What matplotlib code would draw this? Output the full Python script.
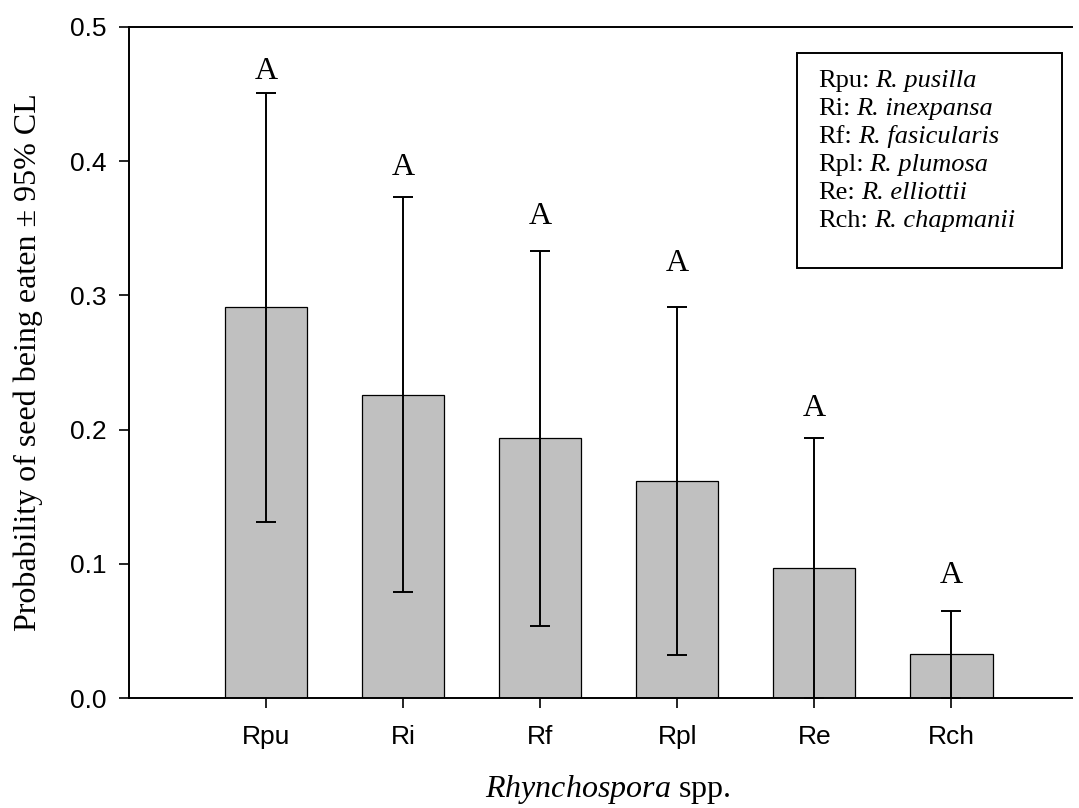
import matplotlib
matplotlib.use("Agg")
import matplotlib.pyplot as plt
from matplotlib.patches import Rectangle

plt.rcParams['mathtext.fontset'] = 'custom'
plt.rcParams['mathtext.rm'] = 'Liberation Serif'
plt.rcParams['mathtext.it'] = 'Liberation Serif:italic'

# data
species = ['Rpu', 'Ri', 'Rf', 'Rpl', 'Re', 'Rch']
prob = [0.291, 0.226, 0.194, 0.162, 0.097, 0.033]
ci_upper = [0.451, 0.373, 0.333, 0.291, 0.194, 0.065]
ci_lower = [0.131, 0.079, 0.054, 0.032, 0.0, 0.0]
letters = ['A', 'A', 'A', 'A', 'A', 'A']
letter_y = [0.467, 0.395, 0.359, 0.324, 0.216, 0.091]
key_codes = ['Rpu', 'Ri', 'Rf', 'Rpl', 'Re', 'Rch']
key_names = ['R. pusilla', 'R. inexpansa', 'R. fasicularis', 'R. plumosa',
             'R. elliottii', 'R. chapmanii']

W, H = 1079, 808
fig = plt.figure(figsize=(W / 100, H / 100), dpi=100)
ax = fig.add_axes([129 / W, 1 - 698 / H, (1072 - 129) / W, (698 - 27) / H])

x = list(range(1, len(species) + 1))
ax.bar(x, prob, width=0.6, color='#c0c0c0', edgecolor='black', linewidth=0.9, zorder=2)
yerr = [[p - lo for p, lo in zip(prob, ci_lower)], [hi - p for p, hi in zip(prob, ci_upper)]]
ax.errorbar(x, prob, yerr=yerr, fmt='none', ecolor='black', elinewidth=1.4,
            capsize=7.2, capthick=1.4, zorder=3)

for xi, ly, lt in zip(x, letter_y, letters):
    ax.text(xi, ly, lt, ha='center', va='center', fontsize=23, family='Liberation Serif')

ax.set_xlim(0, 6.88)
ax.set_ylim(0, 0.5)
ax.set_xticks(x)
ax.set_xticklabels(species, fontsize=19, family='Liberation Sans')
ax.set_yticks([0.0, 0.1, 0.2, 0.3, 0.4, 0.5])
ax.set_yticklabels(['0.0', '0.1', '0.2', '0.3', '0.4', '0.5'], fontsize=19, family='Liberation Sans')
ax.tick_params(direction='out', length=7.2, width=1.2)
ax.tick_params(axis='y', pad=9)
ax.tick_params(axis='x', pad=12.5)
ax.spines['right'].set_visible(False)
for s in ['left', 'bottom', 'top']:
    ax.spines[s].set_linewidth(1.4)

fig.text(28 / W, 1 - 362 / H, 'Probability of seed being eaten \u00b1 95% CL', rotation=90,
         ha='center', va='center', fontsize=23, family='Liberation Serif')
fig.text(608 / W, 1 - 790 / H, r'$\it{Rhynchospora}$ spp.', ha='center', va='center',
         fontsize=23, family='Liberation Serif')

# species key box
fig.patches.append(Rectangle((797 / W, 1 - 268 / H), (1062 - 797) / W, (268 - 53) / H,
                             transform=fig.transFigure, fill=False, edgecolor='black', linewidth=1.4))
renderer = fig.canvas.get_renderer()
for i, (code, name) in enumerate(zip(key_codes, key_names)):
    yy = 1 - (87 + i * 28) / H
    t = fig.text(818 / W, yy, code + ':', ha='left', va='baseline', fontsize=19,
                 family='Liberation Serif')
    x1 = t.get_window_extent(renderer).x1 + 6
    fig.text(x1 / W, yy, name, ha='left', va='baseline', fontsize=19,
             family='Liberation Serif', style='italic')

fig.savefig('out.png', dpi=100)
